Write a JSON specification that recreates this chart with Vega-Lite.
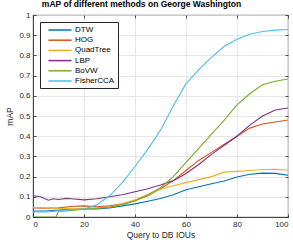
{
  "$schema": "https://vega.github.io/schema/vega-lite/v6.json",
  "autosize": "none",
  "width": 255,
  "height": 202,
  "padding": {"left": 33, "top": 15, "right": 5, "bottom": 30},
  "background": "white",
  "title": {"text": "mAP of different methods on George Washington", "fontSize": 8.5, "fontWeight": "bold", "font": "Liberation Sans", "color": "#000000", "anchor": "middle", "frame": "group", "dx": -19, "offset": 3},
  "datasets": {
    "d": [
      {"m":"DTW","x":0,"v":0.03},{"m":"DTW","x":5,"v":0.03},{"m":"DTW","x":10,"v":0.035},{"m":"DTW","x":15,"v":0.037},{"m":"DTW","x":20,"v":0.04},{"m":"DTW","x":25,"v":0.04},{"m":"DTW","x":30,"v":0.045},{"m":"DTW","x":35,"v":0.055},{"m":"DTW","x":40,"v":0.065},{"m":"DTW","x":45,"v":0.078},{"m":"DTW","x":50,"v":0.092},{"m":"DTW","x":55,"v":0.11},{"m":"DTW","x":60,"v":0.135},{"m":"DTW","x":65,"v":0.15},{"m":"DTW","x":70,"v":0.165},{"m":"DTW","x":75,"v":0.178},{"m":"DTW","x":80,"v":0.198},{"m":"DTW","x":85,"v":0.212},{"m":"DTW","x":90,"v":0.217},{"m":"DTW","x":95,"v":0.216},{"m":"DTW","x":100,"v":0.207},
      {"m":"HOG","x":0,"v":0.045},{"m":"HOG","x":5,"v":0.043},{"m":"HOG","x":10,"v":0.045},{"m":"HOG","x":15,"v":0.052},{"m":"HOG","x":20,"v":0.055},{"m":"HOG","x":25,"v":0.05},{"m":"HOG","x":30,"v":0.055},{"m":"HOG","x":35,"v":0.065},{"m":"HOG","x":40,"v":0.08},{"m":"HOG","x":45,"v":0.105},{"m":"HOG","x":50,"v":0.14},{"m":"HOG","x":55,"v":0.18},{"m":"HOG","x":60,"v":0.23},{"m":"HOG","x":65,"v":0.28},{"m":"HOG","x":70,"v":0.32},{"m":"HOG","x":75,"v":0.36},{"m":"HOG","x":80,"v":0.4},{"m":"HOG","x":85,"v":0.44},{"m":"HOG","x":90,"v":0.46},{"m":"HOG","x":95,"v":0.47},{"m":"HOG","x":100,"v":0.48},
      {"m":"QuadTree","x":0,"v":0.047},{"m":"QuadTree","x":5,"v":0.045},{"m":"QuadTree","x":10,"v":0.043},{"m":"QuadTree","x":15,"v":0.04},{"m":"QuadTree","x":20,"v":0.042},{"m":"QuadTree","x":25,"v":0.045},{"m":"QuadTree","x":30,"v":0.05},{"m":"QuadTree","x":35,"v":0.065},{"m":"QuadTree","x":40,"v":0.085},{"m":"QuadTree","x":45,"v":0.11},{"m":"QuadTree","x":50,"v":0.138},{"m":"QuadTree","x":55,"v":0.155},{"m":"QuadTree","x":60,"v":0.17},{"m":"QuadTree","x":65,"v":0.185},{"m":"QuadTree","x":70,"v":0.2},{"m":"QuadTree","x":75,"v":0.222},{"m":"QuadTree","x":80,"v":0.226},{"m":"QuadTree","x":85,"v":0.23},{"m":"QuadTree","x":90,"v":0.235},{"m":"QuadTree","x":95,"v":0.236},{"m":"QuadTree","x":100,"v":0.233},
      {"m":"LBP","x":0,"v":0.105},{"m":"LBP","x":3,"v":0.1},{"m":"LBP","x":6,"v":0.083},{"m":"LBP","x":8,"v":0.09},{"m":"LBP","x":10,"v":0.087},{"m":"LBP","x":13,"v":0.092},{"m":"LBP","x":15,"v":0.09},{"m":"LBP","x":20,"v":0.085},{"m":"LBP","x":25,"v":0.09},{"m":"LBP","x":30,"v":0.1},{"m":"LBP","x":35,"v":0.11},{"m":"LBP","x":40,"v":0.125},{"m":"LBP","x":45,"v":0.14},{"m":"LBP","x":50,"v":0.158},{"m":"LBP","x":55,"v":0.18},{"m":"LBP","x":60,"v":0.215},{"m":"LBP","x":65,"v":0.26},{"m":"LBP","x":70,"v":0.31},{"m":"LBP","x":75,"v":0.355},{"m":"LBP","x":80,"v":0.4},{"m":"LBP","x":85,"v":0.455},{"m":"LBP","x":90,"v":0.5},{"m":"LBP","x":95,"v":0.53},{"m":"LBP","x":100,"v":0.54},
      {"m":"BoVW","x":0,"v":0},{"m":"BoVW","x":5,"v":0},{"m":"BoVW","x":9,"v":0},{"m":"BoVW","x":10,"v":0.028},{"m":"BoVW","x":15,"v":0.033},{"m":"BoVW","x":20,"v":0.038},{"m":"BoVW","x":25,"v":0.042},{"m":"BoVW","x":30,"v":0.048},{"m":"BoVW","x":35,"v":0.06},{"m":"BoVW","x":40,"v":0.08},{"m":"BoVW","x":45,"v":0.11},{"m":"BoVW","x":50,"v":0.145},{"m":"BoVW","x":55,"v":0.2},{"m":"BoVW","x":60,"v":0.27},{"m":"BoVW","x":65,"v":0.34},{"m":"BoVW","x":70,"v":0.41},{"m":"BoVW","x":75,"v":0.48},{"m":"BoVW","x":80,"v":0.555},{"m":"BoVW","x":85,"v":0.61},{"m":"BoVW","x":90,"v":0.655},{"m":"BoVW","x":95,"v":0.672},{"m":"BoVW","x":100,"v":0.683},
      {"m":"FisherCCA","x":0,"v":0.025},{"m":"FisherCCA","x":5,"v":0.025},{"m":"FisherCCA","x":10,"v":0.03},{"m":"FisherCCA","x":15,"v":0.035},{"m":"FisherCCA","x":20,"v":0.04},{"m":"FisherCCA","x":25,"v":0.06},{"m":"FisherCCA","x":30,"v":0.105},{"m":"FisherCCA","x":35,"v":0.17},{"m":"FisherCCA","x":40,"v":0.25},{"m":"FisherCCA","x":45,"v":0.335},{"m":"FisherCCA","x":50,"v":0.43},{"m":"FisherCCA","x":55,"v":0.55},{"m":"FisherCCA","x":60,"v":0.66},{"m":"FisherCCA","x":65,"v":0.73},{"m":"FisherCCA","x":70,"v":0.79},{"m":"FisherCCA","x":75,"v":0.845},{"m":"FisherCCA","x":80,"v":0.88},{"m":"FisherCCA","x":85,"v":0.905},{"m":"FisherCCA","x":90,"v":0.918},{"m":"FisherCCA","x":95,"v":0.925},{"m":"FisherCCA","x":100,"v":0.928}
    ]
  },
  "data": {"name": "d"},
  "layer": [
    {
      "mark": {"type": "line", "strokeWidth": 1.1, "clip": true},
      "encoding": {
        "x": {"field": "x", "type": "quantitative", "scale": {"domain": [0, 100], "nice": false}, "axis": {"title": "Query to DB IOUs", "values": [0,20,40,60,80,100], "orient": "bottom"}},
        "y": {"field": "v", "type": "quantitative", "scale": {"domain": [0, 1], "nice": false}, "axis": {"title": "mAP", "values": [0,0.1,0.2,0.3,0.4,0.5,0.6,0.7,0.8,0.9,1], "format": "~g", "orient": "left"}},
        "color": {"field": "m", "type": "nominal", "sort": null,
          "scale": {"domain": ["DTW","HOG","QuadTree","LBP","BoVW","FisherCCA"], "range": ["#0072BD","#D95319","#EDB120","#7E2F8E","#77AC30","#4DBEEE"]},
          "legend": {"title": null, "orient": "top-left", "offset": 7, "symbolType": "M-3,0H3", "symbolSize": 59, "symbolStrokeWidth": 1.5, "labelFontSize": 8, "labelFont": "Liberation Sans", "labelColor": "#000000", "strokeColor": "#262626", "fillColor": "white", "padding": 3, "rowPadding": 1.2, "labelOffset": 10, "symbolOffset": 12}
        }
      }
    },
    {
      "mark": {"type": "line", "opacity": 0},
      "encoding": {
        "x": {"field": "x", "type": "quantitative", "axis": {"orient": "top", "title": null, "labels": false, "grid": false, "domain": false, "values": [0,20,40,60,80,100]}},
        "y": {"field": "v", "type": "quantitative", "axis": {"orient": "right", "title": null, "labels": false, "grid": false, "domain": false, "values": [0,0.1,0.2,0.3,0.4,0.5,0.6,0.7,0.8,0.9,1]}}
      }
    }
  ],
  "resolve": {"axis": {"x": "independent", "y": "independent"}},
  "config": {
    "view": {"stroke": "#262626", "strokeWidth": 0.8},
    "axis": {
      "labelFont": "Liberation Sans", "labelFontSize": 8, "labelColor": "#262626",
      "titleFont": "Liberation Sans", "titleFontSize": 8.5, "titleFontWeight": "normal", "titleColor": "#262626",
      "tickSize": -3, "tickColor": "#262626", "tickWidth": 0.8,
      "domainColor": "#262626", "domainWidth": 0.8,
      "gridColor": "#dfdfdf", "gridWidth": 0.8,
      "labelPadding": 6
    },
    "axisX": {"titlePadding": 2},
    "axisY": {"titlePadding": 4}
  }
}
